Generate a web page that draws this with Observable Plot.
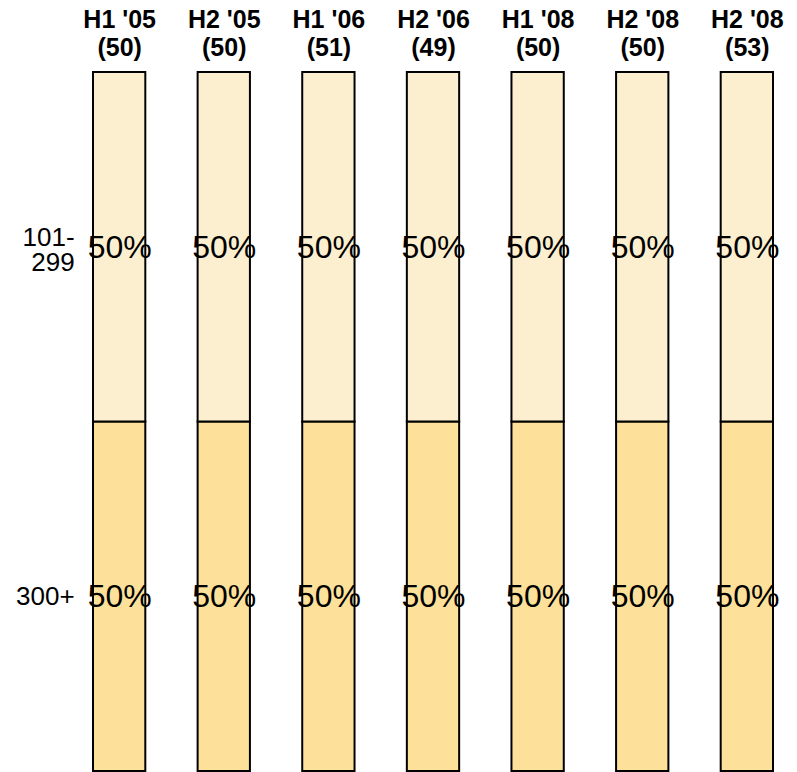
<!DOCTYPE html>
<html>
<head>
<meta charset="utf-8">
<script src="https://cdn.jsdelivr.net/npm/d3@7"></script>
<script src="https://cdn.jsdelivr.net/npm/@observablehq/plot@0.6"></script>
<style>
  html, body { margin: 0; padding: 0; background: #fff; }
  svg { display: block; }
</style>
</head>
<body>
<div id="chart"></div>
<script>
const periods = ["H1 '05", "H2 '05", "H1 '06", "H2 '06", "H1 '08", "H2 '08", "H2 '08"];
const counts = [50, 50, 51, 49, 50, 50, 53];
const groups = ["300+", "101-\n299"];           // bottom to top
const share300 = [50, 50, 50, 50, 50, 50, 50];
const share101 = [50, 50, 50, 50, 50, 50, 50];
const colors = ["#fde19a", "#fcefcf"];

const keys = periods.map((p, i) => i);
const data = [];
keys.forEach(i => {
  data.push({col: i, group: groups[0], value: share300[i]});
  data.push({col: i, group: groups[1], value: share101[i]});
});

const chart = Plot.plot({
  width: 797,
  height: 772,
  marginTop: 72,
  marginBottom: 1,
  marginLeft: 93,
  marginRight: 24,
  style: {fontFamily: "Arial, 'Liberation Sans', Helvetica, sans-serif", background: "#fff"},
  x: {type: "band", domain: keys, paddingInner: 0.5, paddingOuter: 0, round: false, axis: null},
  y: {domain: [0, 100], axis: null},
  color: {domain: groups, range: colors},
  marks: [
    Plot.barY(data, {x: "col", y: "value", fill: "group", stroke: "black", strokeWidth: 2, order: groups}),
    Plot.text(data, Plot.stackY({x: "col", y: "value", z: "group", order: groups, text: d => d.value + "%", fontSize: 32, fill: "black"})),
    Plot.text(data.filter(d => d.col === 0 && d.group === groups[0]), Plot.stackY({x: "col", y: "value", z: "group", order: groups, text: "group", textAnchor: "end", dx: -45, fontSize: 26, fill: "black"})),
    Plot.text(data.filter(d => d.col === 0), Plot.stackY({x: "col", y: "value", z: "group", order: groups, text: d => d.group === groups[1] ? d.group : "", textAnchor: "end", dx: -45, dy: 3, fontSize: 26, lineHeight: 0.95, fill: "black"})),
    Plot.axisX({anchor: "top", tickSize: 0, tickPadding: 17, fontSize: 25, fontWeight: "bold", lineHeight: 1.1, fill: "black", label: null,
      tickFormat: i => periods[i] + "\n(" + counts[i] + ")"})
  ]
});
document.getElementById("chart").appendChild(chart);
</script>
</body>
</html>
